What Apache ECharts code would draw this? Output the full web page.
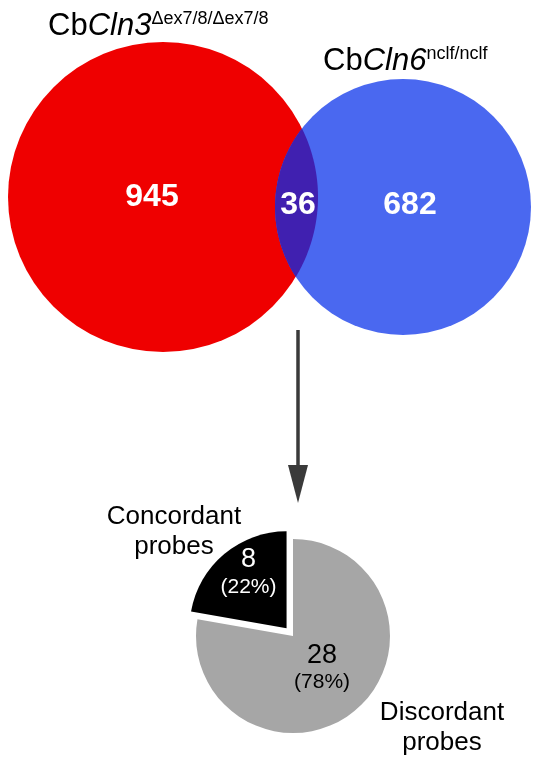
<!DOCTYPE html>
<html><head><meta charset="utf-8">
<script src="https://cdn.jsdelivr.net/npm/echarts@6/dist/echarts.min.js"></script>
<style>html,body{margin:0;padding:0;background:#fff}#c{width:543px;height:760px}</style>
</head><body><div id="c"></div>
<script>
// ---- data ----
const vennSetLabels = ['Cln3', 'Cln6'];
const vennSetSupers = ['\u0394ex7/8/\u0394ex7/8', 'nclf/nclf'];
const vennCounts = [945, 682, 36];          // only Cln3, only Cln6, both
const pieNames = ['Discordant\nprobes', 'Concordant\nprobes'];
const pieValues = [28, 8];

// ---- layout (pixels) ----
const FONT = '"Liberation Sans", Arial, Helvetica, sans-serif';
const C1 = {x: 163, y: 197, r: 155};
const C2 = {x: 403, y: 207, r: 128};
const vennLabelPos = [[152, 197], [410, 205], [298, 205]];
const vennColors = ['#ef0000', '#4a68f0', '#4020b0'];
const arrow = {x: 298, y0: 330, yHead: 465, y1: 503, w: 20};

const chart = echarts.init(document.getElementById('c'), null, {renderer: 'canvas'});

function renderVenn(params, api) {
  const i = api.value(0);
  const p1 = api.coord([C1.x, C1.y]), p2 = api.coord([C2.x, C2.y]);
  const r1 = api.size([C1.r, 0])[0], r2 = api.size([C2.r, 0])[0];
  const lp = api.coord(vennLabelPos[i]);
  const children = [];
  if (i === 0) {
    children.push({type: 'circle', shape: {cx: p1[0], cy: p1[1], r: r1}, style: {fill: vennColors[0]}});
  } else if (i === 1) {
    children.push({type: 'circle', shape: {cx: p2[0], cy: p2[1], r: r2}, style: {fill: vennColors[1]}});
  } else {
    const dx = p2[0] - p1[0], dy = p2[1] - p1[1];
    const d = Math.sqrt(dx * dx + dy * dy);
    const a = (d * d + r1 * r1 - r2 * r2) / (2 * d);
    const th = Math.atan2(dy, dx);
    const al1 = Math.acos(a / r1), al2 = Math.acos((d - a) / r2);
    const pts = [];
    const N = 80;
    for (let k = 0; k <= N; k++) {
      const t = th - al1 + 2 * al1 * k / N;
      pts.push([p1[0] + r1 * Math.cos(t), p1[1] + r1 * Math.sin(t)]);
    }
    for (let k = 0; k <= N; k++) {
      const t = th + Math.PI - al2 + 2 * al2 * k / N;
      pts.push([p2[0] + r2 * Math.cos(t), p2[1] + r2 * Math.sin(t)]);
    }
    children.push({type: 'polygon', shape: {points: pts}, style: {fill: vennColors[2]}});
  }
  children.push({type: 'text', style: {
    text: String(api.value(1)), x: lp[0], y: lp[1], fill: '#fff',
    font: 'bold 32px ' + FONT, align: 'center', verticalAlign: 'middle'
  }});
  return {type: 'group', children: children};
}

function renderArrow(params, api) {
  const a0 = api.coord([arrow.x, arrow.y0]);
  const ah = api.coord([arrow.x, arrow.yHead]);
  const a1 = api.coord([arrow.x, arrow.y1]);
  const hw = api.size([arrow.w / 2, 0])[0];
  return {type: 'group', children: [
    {type: 'line', shape: {x1: a0[0], y1: a0[1], x2: ah[0], y2: ah[1] + 4}, style: {stroke: '#3a3a3a', lineWidth: 3.5}},
    {type: 'polygon', shape: {points: [[ah[0] - hw, ah[1]], [ah[0] + hw, ah[1]], [a1[0], a1[1]]]}, style: {fill: '#3a3a3a'}}
  ]};
}

const titleRich = {
  n: {fontSize: 31, fontFamily: FONT, fontWeight: 'normal', color: '#000', lineHeight: 36},
  i: {fontSize: 31, fontFamily: FONT, fontWeight: 'normal', fontStyle: 'italic', color: '#000', lineHeight: 36},
  s: {fontSize: 18, fontFamily: FONT, fontWeight: 'normal', color: '#000', lineHeight: 18, verticalAlign: 'top', padding: [2, 0, 0, 0]}
};

chart.setOption({
  animation: false,
  backgroundColor: '#fff',
  title: [
    {left: 48, top: 8, padding: 0, text: '{n|Cb}{i|' + vennSetLabels[0] + '}{s|' + vennSetSupers[0] + '}',
     textStyle: {fontWeight: 'normal', rich: titleRich}},
    {left: 323, top: 43, padding: 0, text: '{n|Cb}{i|' + vennSetLabels[1] + '}{s|' + vennSetSupers[1] + '}',
     textStyle: {fontWeight: 'normal', rich: titleRich}}
  ],
  grid: {left: 0, right: 0, top: 0, bottom: 0, containLabel: false},
  xAxis: {type: 'value', min: 0, max: 543, show: false},
  yAxis: {type: 'value', min: 0, max: 760, inverse: true, show: false},
  graphic: [
    {type: 'text', x: 174, y: 532, style: {text: pieNames[1], font: '26px ' + FONT, fill: '#000', align: 'center', verticalAlign: 'middle', lineHeight: 30}},
    {type: 'text', x: 442, y: 728, style: {text: pieNames[0], font: '26px ' + FONT, fill: '#000', align: 'center', verticalAlign: 'middle', lineHeight: 30}}
  ],
  series: [
    {type: 'custom', coordinateSystem: 'cartesian2d', renderItem: renderVenn, silent: true,
     data: vennCounts.map((v, i) => [i, v]), z: 2},
    {type: 'custom', coordinateSystem: 'cartesian2d', renderItem: renderArrow, silent: true,
     data: [[0, 0]], z: 2},
    {type: 'pie', center: [293, 636], radius: 97, startAngle: 90, clockwise: true,
     selectedMode: 'single', selectedOffset: 10, silent: true,
     emphasis: {disabled: true},
     labelLine: {show: false},
     label: {
       position: 'inside',
       formatter: p => '{v|' + p.value + '}\n{p|(' + Math.round(p.percent) + '%)}',
       rich: {
         v: {fontSize: 27, fontFamily: FONT, lineHeight: 28},
         p: {fontSize: 21, fontFamily: FONT, lineHeight: 26}
       }
     },
     labelLayout: p => p.dataIndex === 1 ? {dx: -5, dy: -16} : {dx: -4, dy: -7},
     data: [
       {value: pieValues[0], name: pieNames[0], itemStyle: {color: '#a6a6a6'}, label: {color: '#000', rich: {v: {color: '#000'}, p: {color: '#000'}}}},
       {value: pieValues[1], name: pieNames[1], selected: true, itemStyle: {color: '#000'}, label: {color: '#fff', rich: {v: {color: '#fff'}, p: {color: '#fff'}}}}
     ]}
  ]
});
</script>
</body></html>
